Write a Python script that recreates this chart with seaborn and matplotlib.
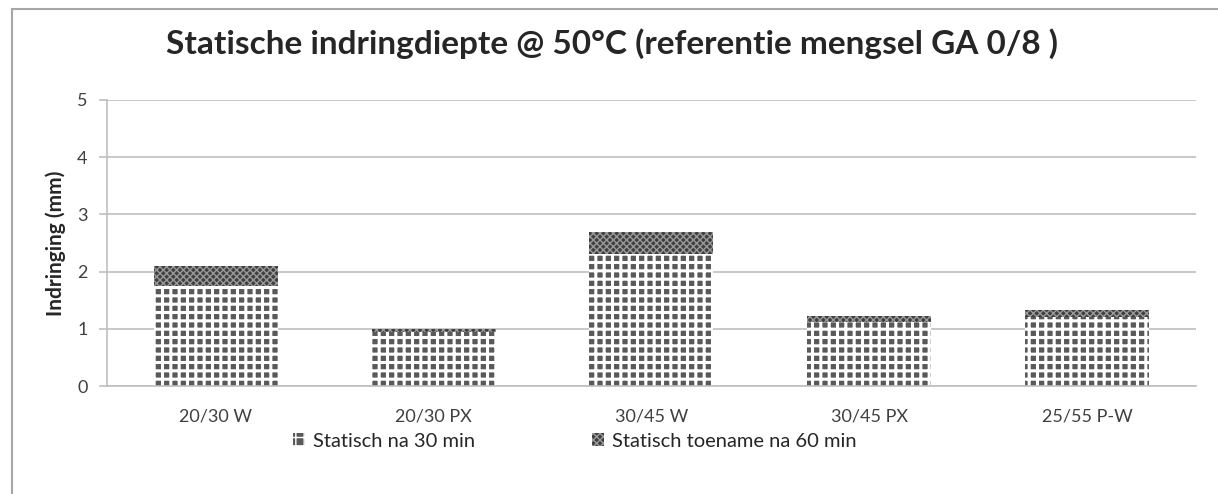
import numpy as np
import pandas as pd
import matplotlib
matplotlib.use("Agg")
import matplotlib.pyplot as plt
from matplotlib.patches import Patch, Rectangle
import seaborn as sns

# data
categories = ["20/30 W", "20/30 PX", "30/45 W", "30/45 PX", "25/55 P-W"]
na_30 = [1.75, 0.95, 2.3, 1.12, 1.2]
toename_60 = [0.35, 0.05, 0.4, 0.1, 0.13]
series_names = ["Statisch na 30 min", "Statisch toename na 60 min"]

df = pd.DataFrame({"cat": categories, "base": na_30,
                   "total": np.add(na_30, toename_60)})

sns.set_theme(style="white")
plt.rcParams["font.family"] = ["Lato", "DejaVu Sans"]

fig = plt.figure(figsize=(12.18, 4.94), dpi=100)
ax = fig.add_axes([0.0878, 0.2186, 0.894, 0.5790])

dark = "#595959"
lw_top, lw_base = 1.0, 2.2

# top part (total) first, base drawn over it
with plt.rc_context({"hatch.linewidth": lw_top}):
    sns.barplot(data=df, x="cat", y="total", ax=ax, width=0.57, color="#3f3f3f",
                edgecolor="#9a9a9a", linewidth=0, hatch="xxxxx", saturation=1)
n_top = len(ax.patches)
with plt.rc_context({"hatch.linewidth": lw_base}):
    sns.barplot(data=df, x="cat", y="base", ax=ax, width=0.57, color=dark,
                edgecolor="white", linewidth=0, hatch="++", saturation=1)
for i, p in enumerate(ax.patches):
    if hasattr(p, "set_hatch_linewidth"):
        p.set_hatch_linewidth(lw_top if i < n_top else lw_base)

ax.set_ylim(0, 5)
ax.set_yticks([0, 1, 2, 3, 4, 5])
ax.yaxis.grid(True, color="#bfbfbf", linewidth=1.2)
ax.set_axisbelow(True)
for s in ["top", "right"]:
    ax.spines[s].set_visible(False)
ax.spines["left"].set_color("#bfbfbf")
ax.spines["bottom"].set_color("#bfbfbf")
ax.spines["left"].set_linewidth(1.2)
ax.spines["bottom"].set_linewidth(1.2)
ax.tick_params(axis="y", left=True, length=6, color="#bfbfbf", width=1.2,
               labelsize=13, labelcolor="#404040", pad=8)
ax.tick_params(axis="x", bottom=False, labelsize=13, labelcolor="#404040", pad=10)
ax.set_xlabel("")
ax.set_ylabel("Indringing (mm)", fontsize=15, fontweight="bold", labelpad=8)

ax.set_title("Statische indringdiepte @ 50°C (referentie mengsel GA 0/8 )",
             fontsize=24, fontweight="bold", pad=33, x=0.464)

handles = [Patch(facecolor=dark, edgecolor="white", hatch="++", linewidth=0),
           Patch(facecolor="#3f3f3f", edgecolor="#9a9a9a", hatch="xxxxx", linewidth=0)]
ax.legend(handles, series_names, loc="upper center", bbox_to_anchor=(0.43, -0.10),
          ncol=2, frameon=False, fontsize=14.5, handlelength=0.6, handleheight=0.6,
          handletextpad=0.4, columnspacing=5.8)

fig.patches.append(Rectangle((0.0099, -0.1), 1.2, 0.9818 + 0.1, transform=fig.transFigure,
                             fill=False, edgecolor="#a6a6a6", linewidth=1.5))

fig.savefig("out.png", dpi=100)
